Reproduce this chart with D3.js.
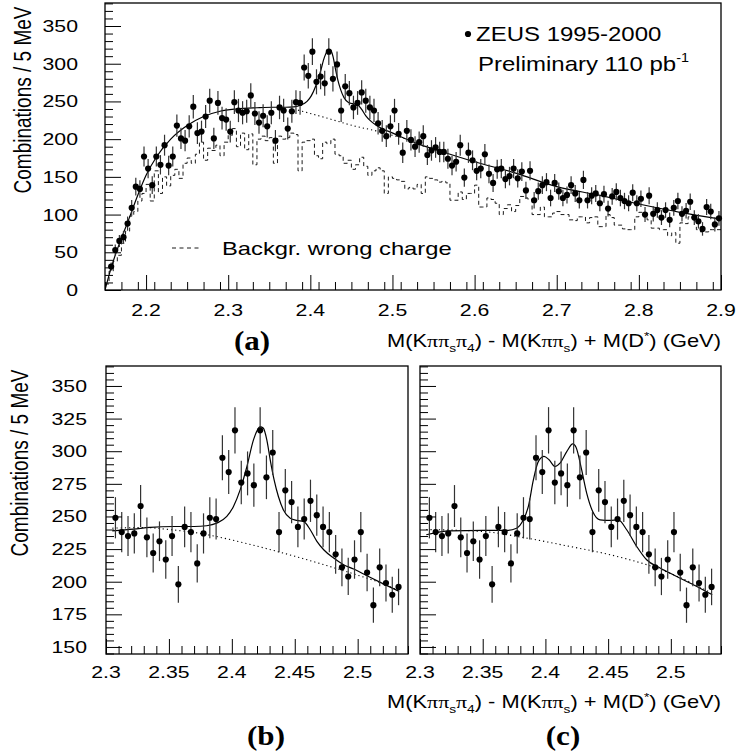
<!DOCTYPE html>
<html>
<head>
<meta charset="utf-8">
<script src="https://cdn.jsdelivr.net/npm/d3@7"></script>
<style>
  body { margin: 0; background: #fff; }
  text { font-family: "Liberation Sans", Arial, sans-serif; fill: #000; }
</style>
</head>
<body>
<div id="chart"></div>
<script>
// histogram binning: 5 MeV bins starting at 2.15 GeV
const binLow = 2.15;
const binWidth = 0.005;

// right-charge combinations per bin (data points), first bin not drawn
const counts = [
  null, 31, 53, 65, 70, 88, 109, 137, 134, 177,
  161, 139, 177, 166, 192, 165, 177, 218, 201, 198,
  217, 243, 208, 210, 230, 251, 201, 248, 228, 226,
  210, 249, 238, 235, 237, 258, 234, 222, 231, 217,
  235, 198, 242, 238, 214, 237, 249, 248, 295, 284,
  316, 276, 283, 274, 316, 280, 299, 238, 270, 261,
  242, 248, 262, 251, 242, 238, 221, 211, 204, 217,
  238, 207, 182, 211, 199, 190, 196, 204, 179, 185,
  189, 183, 183, 174, 165, 170, 192, 149, 182, 172,
  158, 161, 180, 154, 142, 160, 161, 147, 151, 161,
  148, 157, 132, 158, 119, 131, 139, 143, 122, 142,
  131, 122, 126, 139, 128, 119, 146, 119, 125, 128,
  115, 127, 108, 124, 130, 122, 118, 115, 129, 115,
  121, 100, 125, 101, 106, 96, 106, 93, 109, 118,
  101, 105, 117, 96, 91, 81, 110, 104, 87, 95
];

// wrong-charge background histogram (dashed)
const wrongCharge = [
  8, 25, 38, 46, 62, 78, 98, 104, 118, 128,
  140, 118, 158, 128, 150, 138, 152, 160, 148, 168,
  175, 168, 180, 196, 172, 188, 185, 192, 178, 196,
  205, 214, 190, 208, 186, 207, 166, 200, 204, 198,
  202, 168, 204, 200, 202, 208, 206, 158, 196, 198,
  200, 178, 174, 196, 194, 200, 180, 178, 168, 172,
  160, 166, 176, 164, 152, 158, 162, 158, 128, 150,
  148, 146, 144, 134, 136, 134, 140, 128, 150, 148,
  146, 143, 144, 142, 119, 119, 130, 120, 128, 128,
  139, 110, 110, 122, 120, 115, 100, 108, 113, 104,
  112, 124, 122, 120, 100, 100, 110, 97, 97, 102,
  104, 100, 100, 93, 92, 97, 97, 89, 96, 97,
  84, 84, 100, 96, 86, 86, 81, 80, 80, 97,
  103, 102, 93, 82, 82, 80, 80, 72, 76, 62,
  89, 88, 97, 96, 80, 77, 77, 80, 80, 80
];

// fit curves: [mass, combinations]
const fitA = [
  [2.15, 0], [2.1525, 10], [2.155, 20], [2.16, 38], [2.168, 63], [2.178, 91],
  [2.19, 126], [2.2, 152], [2.213, 177], [2.23, 200], [2.25, 218], [2.27, 230],
  [2.29, 237], [2.31, 240], [2.335, 241.6], [2.354, 242.3], [2.37, 242.3],
  [2.38, 242.9], [2.388, 244.9], [2.396, 250], [2.4013, 257.7], [2.4066, 270.4],
  [2.412, 288.3], [2.4172, 308.7], [2.4225, 318.9], [2.4251, 317.6], [2.4278, 308.7],
  [2.4305, 293.4], [2.4336, 278], [2.437, 265.3], [2.441, 255], [2.4464, 248.7],
  [2.4517, 247], [2.457, 246.2], [2.4623, 239.8], [2.4676, 230.9], [2.473, 224.5],
  [2.4809, 218.1], [2.4888, 213], [2.4968, 209.7], [2.5074, 204.6], [2.518, 199.5],
  [2.533, 193], [2.55, 187], [2.6, 170], [2.65, 155], [2.7, 137], [2.75, 126],
  [2.8, 114], [2.85, 103], [2.9, 94]
];
const bgA = [
  [2.385, 238.5], [2.42, 228], [2.455, 217], [2.48, 211], [2.5, 205], [2.52, 199.5]
];
const fitB = [
  [2.305, 239], [2.322, 240.3], [2.335, 241.6], [2.354, 242.3], [2.37, 242.3],
  [2.38, 242.9], [2.388, 244.9], [2.396, 250], [2.4013, 257.7], [2.4066, 270.4],
  [2.412, 288.3], [2.4172, 308.7], [2.4225, 318.9], [2.4251, 317.6], [2.4278, 308.7],
  [2.4305, 293.4], [2.4336, 278], [2.437, 265.3], [2.441, 255], [2.4464, 248.7],
  [2.4517, 247], [2.457, 246.2], [2.4623, 239.8], [2.4676, 230.9], [2.473, 224.5],
  [2.4809, 218.1], [2.4888, 213], [2.4968, 209.7], [2.5074, 204.6], [2.518, 199.5],
  [2.533, 192.6]
];
const bgB = [
  [2.305, 241], [2.33, 241.5], [2.35, 240], [2.375, 237], [2.4, 232], [2.425, 226],
  [2.45, 219.5], [2.475, 212.5], [2.5, 205], [2.52, 198.5], [2.533, 193]
];
const fitC = [
  [2.305, 236], [2.324, 239], [2.35, 239.3], [2.369, 239.3], [2.377, 241],
  [2.3824, 247.4], [2.3864, 257.7], [2.3904, 278], [2.3943, 292], [2.3989, 296],
  [2.4029, 293.4], [2.4077, 288.3], [2.4116, 290.8], [2.417, 299.7], [2.4218, 305.6],
  [2.4244, 303], [2.4289, 285.7], [2.4329, 267.9], [2.4377, 253.8], [2.4435, 247.4],
  [2.4515, 247], [2.4581, 247.4], [2.4648, 239.8], [2.4728, 227], [2.4807, 216.8],
  [2.4914, 210.5], [2.5047, 204], [2.5179, 197.7], [2.533, 190]
];
const bgC = [
  [2.305, 240], [2.35, 238.5], [2.385, 233.4], [2.417, 227.5], [2.457, 219.4],
  [2.49, 210], [2.51, 202], [2.533, 191]
];

// tick labels
const xTicksA = [2.2, 2.3, 2.4, 2.5, 2.6, 2.7, 2.8, 2.9];
const yTicksA = [0, 50, 100, 150, 200, 250, 300, 350];
const xTicksB = [2.3, 2.35, 2.4, 2.45, 2.5];
const yTicksB = [150, 175, 200, 225, 250, 275, 300, 325, 350];

const W = 736, H = 752;
const SX = 1.25; // the picture is stretched sideways, so is the text

const svg = d3.select('#chart').append('svg')
  .attr('width', W).attr('height', H);

const bins = counts
  .map((n, i) => ({ x: binLow + (i + 0.5) * binWidth, n }))
  .filter(d => d.n !== null);

function label(g, x, y, str, size, anchor, sx) {
  return g.append('text')
    .attr('transform', `translate(${x},${y}) scale(${sx || SX},1)`)
    .attr('font-size', size)
    .attr('text-anchor', anchor || 'start')
    .text(str);
}

function massTitle(g, x, y) {
  const t = g.append('text')
    .attr('transform', `translate(${x},${y}) scale(${SX},1)`)
    .attr('font-size', 17.5)
    .attr('text-anchor', 'end');
  // k: 1 = into subscript, -1 = back from subscript, -2 = superscript, 2 = back from it
  const parts = [
    ['M(K', 0], ['\u03c0\u03c0', 9], ['s', 1], ['\u03c0', -1], ['4', 1], [') - M(K', -1],
    ['\u03c0\u03c0', 9], ['s', 1], [') + M(D', -1], ['*', -2], [') (GeV)', 2]
  ];
  parts.forEach(([s, k]) => {
    const ts = t.append('tspan').text(s);
    if (k === 1) ts.attr('dy', 5).attr('font-size', 11);
    if (k === -1) ts.attr('dy', -5);
    if (k === -2) ts.attr('dy', -7).attr('font-size', 11);
    if (k === 2) ts.attr('dy', 7);
    if (s.includes('\u03c0')) ts.style('font-family', '"Liberation Serif", serif');
  });
}

function panel(cfg) {
  const x = d3.scaleLinear().domain(cfg.xDomain).range([cfg.left, cfg.right]);
  const y = d3.scaleLinear().domain(cfg.yDomain).range([cfg.bottom, cfg.top]);
  const g = svg.append('g').attr('class', cfg.id);

  g.append('clipPath').attr('id', 'clip-' + cfg.id)
    .append('rect')
    .attr('x', cfg.left).attr('y', cfg.top)
    .attr('width', cfg.right - cfg.left).attr('height', cfg.bottom - cfg.top);
  const inner = g.append('g').attr('clip-path', `url(#clip-${cfg.id})`);

  // wrong-charge histogram
  if (cfg.wrong) {
    const steps = cfg.wrong.map((v, i) => [binLow + i * binWidth, v]);
    steps.push([binLow + cfg.wrong.length * binWidth, cfg.wrong[cfg.wrong.length - 1]]);
    inner.append('path')
      .attr('d', d3.line().x(d => x(d[0])).y(d => y(d[1])).curve(d3.curveStepAfter)(steps))
      .attr('fill', 'none').attr('stroke', '#000').attr('stroke-width', 0.9)
      .attr('stroke-dasharray', '4,3');
  }

  const line = d3.line().x(d => x(d[0])).y(d => y(d[1])).curve(d3.curveMonotoneX);
  inner.append('path').attr('d', line(cfg.bg))
    .attr('fill', 'none').attr('stroke', '#000').attr('stroke-width', 1.1)
    .attr('stroke-dasharray', '1.2,3');
  inner.append('path').attr('d', line(cfg.fit))
    .attr('fill', 'none').attr('stroke', '#000').attr('stroke-width', 1.2);

  // data points with sqrt(N) errors
  const pts = bins.filter(d => d.x > cfg.pointRange[0] && d.x < cfg.pointRange[1]);
  inner.selectAll('line.err').data(pts).join('line')
    .attr('class', 'err')
    .attr('x1', d => x(d.x)).attr('x2', d => x(d.x))
    .attr('y1', d => y(d.n - Math.sqrt(d.n))).attr('y2', d => y(d.n + Math.sqrt(d.n)))
    .attr('stroke', '#333').attr('stroke-width', 1.2);
  g.selectAll('circle').data(pts).join('circle')
    .attr('cx', d => x(d.x)).attr('cy', d => y(d.n)).attr('r', 3.1)
    .attr('fill', '#000');

  // ticks, drawn inward like ROOT
  const xMinor = d3.range(cfg.xDomain[0], cfg.xDomain[1] + 1e-9, cfg.xMinorStep)
    .filter(v => !cfg.xTicks.some(t => Math.abs(t - v) < 1e-6));
  const yMinor = d3.range(Math.ceil(cfg.yDomain[0] / cfg.yMinorStep) * cfg.yMinorStep, cfg.yDomain[1], cfg.yMinorStep)
    .filter(v => !cfg.yTicks.some(t => Math.abs(t - v) < 1e-6));

  const axes = [
    [d3.axisBottom(x).tickValues(cfg.xTicks).tickSize(-15), `translate(0,${cfg.bottom})`],
    [d3.axisBottom(x).tickValues(xMinor).tickSize(-8), `translate(0,${cfg.bottom})`],
    [d3.axisLeft(y).tickValues(cfg.yTicks).tickSize(-16), `translate(${cfg.left},0)`],
    [d3.axisLeft(y).tickValues(yMinor).tickSize(-8), `translate(${cfg.left},0)`]
  ];
  axes.forEach(([ax, tr]) => {
    const a = g.append('g').attr('transform', tr).call(ax.tickFormat(''));
    a.select('.domain').remove();
    a.selectAll('line').attr('stroke', '#000').attr('stroke-width', 1);
  });

  g.append('rect')
    .attr('x', cfg.left).attr('y', cfg.top)
    .attr('width', cfg.right - cfg.left).attr('height', cfg.bottom - cfg.top)
    .attr('fill', 'none').attr('stroke', '#000').attr('stroke-width', 1.3);

  cfg.xTicks.forEach(t => label(g, x(t), cfg.bottom + cfg.xLabelDy, String(t), 17, 'middle'));
  if (cfg.yLabels) {
    cfg.yTicks.forEach(t => label(g, cfg.yLabelX, y(t) + 6, String(t), 17, 'end'));
    g.append('text')
      .attr('transform', `translate(${cfg.yTitleX},${cfg.yTitleY}) scale(${SX},1) rotate(-90)`)
      .attr('font-size', 19).attr('text-anchor', 'middle')
      .text('Combinations / 5 MeV');
  }
  return { g, x, y };
}

const a = panel({
  id: 'pa', left: 105, right: 721, top: 3, bottom: 290,
  xDomain: [2.15, 2.9], yDomain: [0, 380.5], pointRange: [2.15, 2.9],
  xTicks: xTicksA, yTicks: yTicksA, xMinorStep: 0.02, yMinorStep: 10,
  fit: fitA, bg: bgA, wrong: wrongCharge, xLabelDy: 26,
  yLabels: true, yLabelX: 78, yTitleX: 31, yTitleY: 100
});
const b = panel({
  id: 'pb', left: 106, right: 408, top: 366, bottom: 654,
  xDomain: [2.3, 2.54], yDomain: [144.6, 365.3], pointRange: [2.305, 2.535],
  xTicks: xTicksB, yTicks: yTicksB, xMinorStep: 0.01, yMinorStep: 5,
  fit: fitB, bg: bgB, xLabelDy: 24,
  yLabels: true, yLabelX: 87, yTitleX: 28, yTitleY: 463
});
const c = panel({
  id: 'pc', left: 420, right: 721, top: 366, bottom: 654,
  xDomain: [2.3, 2.54], yDomain: [144.6, 365.3], pointRange: [2.305, 2.535],
  xTicks: xTicksB, yTicks: yTicksB, xMinorStep: 0.01, yMinorStep: 5,
  fit: fitC, bg: bgC, xLabelDy: 24,
  yLabels: false
});

// legend of panel (a)
a.g.append('circle').attr('cx', 468).attr('cy', 34).attr('r', 3.1).attr('fill', '#000');
label(a.g, 476, 41, 'ZEUS 1995-2000', 20, 'start', 1.2);
const pre = a.g.append('text')
  .attr('transform', 'translate(478,71) scale(1.2,1)')
  .attr('font-size', 20);
pre.append('tspan').text('Preliminary 110 pb');
pre.append('tspan').text('-1').attr('font-size', 12).attr('dy', -9);

a.g.append('line').attr('x1', 172).attr('x2', 199).attr('y1', 248).attr('y2', 248)
  .attr('stroke', '#000').attr('stroke-width', 0.9).attr('stroke-dasharray', '4,3.5');
label(a.g, 222, 255, 'Backgr. wrong charge', 19, 'start');

// axis titles and panel letters
massTitle(a.g, 721, 347);
massTitle(svg, 721, 708);
const letter = (x, y, s) => svg.append('text')
  .attr('transform', `translate(${x},${y}) scale(1.15,1)`)
  .style('font-family', '"Liberation Serif", "DejaVu Serif", serif')
  .attr('font-weight', 'bold').attr('font-size', 27)
  .attr('text-anchor', 'middle').text(s);
letter(252, 350, '(a)');
letter(266, 745, '(b)');
letter(563, 745, '(c)');
</script>
</body>
</html>
